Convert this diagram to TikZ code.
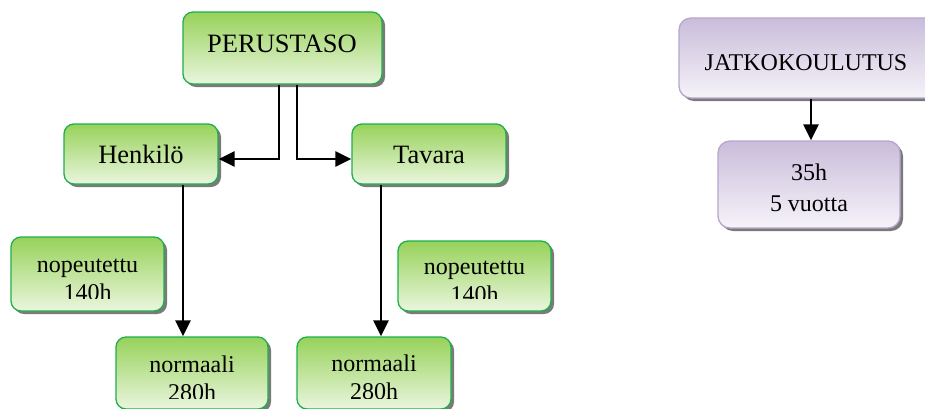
\documentclass[tikz,border=0pt]{standalone}
\usepackage{fontspec}
\setmainfont{Liberation Serif}
\usetikzlibrary{shadows,arrows.meta}
\definecolor{gtop}{HTML}{97D25A}
\definecolor{gbot}{HTML}{EAF6DE}
\definecolor{gline}{HTML}{1CB04C}
\definecolor{ptop}{HTML}{C9BDDB}
\definecolor{pbot}{HTML}{F6F3F9}
\definecolor{pline}{HTML}{B6A6CC}
\definecolor{shad}{HTML}{7A7A7A}
\tikzset{
  gbox/.style={draw=gline, line width=1.3pt, rounded corners=10pt, top color=gtop, bottom color=gbot, inner sep=0pt,
    drop shadow={shadow xshift=3pt, shadow yshift=-3pt, fill=shad, opacity=1}},
  pbox/.style={draw=pline, line width=1.3pt, rounded corners=12pt, top color=ptop, bottom color=pbot, inner sep=0pt,
    drop shadow={shadow xshift=3pt, shadow yshift=-3pt, fill=shad, opacity=1}},
  big/.style={font=\fontsize{26.5}{30}\selectfont, inner sep=0pt, anchor=base},
  small/.style={font=\fontsize{24}{28.5}\selectfont, inner sep=0pt, anchor=base, align=center},
  conn/.style={line width=2.5pt, -{Triangle[length=16pt,width=15pt]}},
}
\begin{document}
\begin{tikzpicture}[x=1pt,y=1pt]
\useasboundingbox (0,0) rectangle (925,-408);
\begin{scope}
\clip (0,0) rectangle (925,-408);
% boxes
\node[gbox, minimum width=199pt, minimum height=72pt] (P) at (282.5,-48) {};
\node[gbox, minimum width=154pt, minimum height=60pt] (H) at (141,-154) {};
\node[gbox, minimum width=154pt, minimum height=60pt] (T) at (429,-154) {};
\node[gbox, minimum width=153pt, minimum height=74pt] (N1) at (87.5,-274) {};
\node[gbox, minimum width=153pt, minimum height=70pt] (N2) at (474.5,-276) {};
\node[gbox, minimum width=152pt, minimum height=72pt] (M1) at (192,-373) {};
\node[gbox, minimum width=154pt, minimum height=72pt] (M2) at (374,-373) {};
\node[pbox, minimum width=262pt, minimum height=80pt] (J) at (810,-58) {};
\node[pbox, minimum width=182pt, minimum height=87pt] (K) at (809,-184.5) {};
% texts (multi-line nodes are placed by the baseline of their last line)
\node[big] (tP) at (282,-52) {PERUSTASO};
\node[big] (tH) at (141,-163) {Henkilö};
\node[big] (tT) at (429,-163) {Tavara};
\node[small] (tJ) at (806,-70) {JATKOKOULUTUS};
\node[small, font=\fontsize{24}{31}\selectfont] (tK) at (809,-211) {35h\\5 vuotta};
\begin{scope}
\clip (N1.north west) rectangle ([yshift=13pt]N1.south east);
\node[small] (tN1) at (87.5,-300.5) {nopeutettu\\140h};
\end{scope}
\begin{scope}
\clip (N2.north west) rectangle ([yshift=13pt]N2.south east);
\node[small] (tN2) at (474.5,-302.5) {nopeutettu\\140h};
\end{scope}
\begin{scope}
\clip (M1.north west) rectangle ([yshift=11pt]M1.south east);
\node[small] (tM1) at (192,-400.5) {normaali\\280h};
\end{scope}
\begin{scope}
\clip (M2.north west) rectangle ([yshift=11pt]M2.south east);
\node[small] (tM2) at (374,-399.5) {normaali\\280h};
\end{scope}
% connectors
\draw[conn] ([xshift=-3.5pt]P.south) |- ([yshift=-5pt]H.east);
\draw[conn] ([xshift=14.5pt]P.south) |- ([yshift=-5pt]T.west);
\draw[conn] ([xshift=42pt]H.south) -- ([xshift=42pt]H.south |- M1.north);
\draw[conn] ([xshift=-48pt]T.south) -- ([xshift=-48pt]T.south |- M2.north);
\draw[conn] ([xshift=2pt]K.north |- J.south) -- ([xshift=2pt]K.north);
\end{scope}
\end{tikzpicture}
\end{document}
